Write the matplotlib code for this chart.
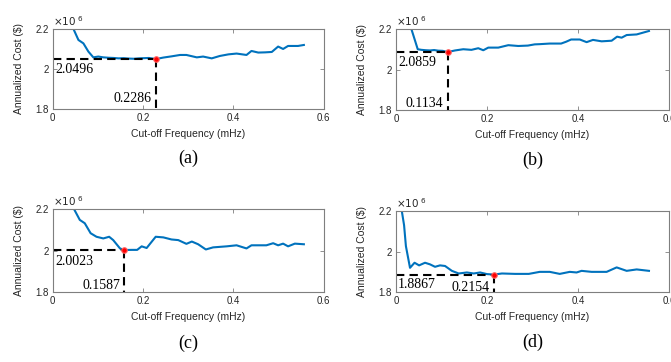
import matplotlib
matplotlib.use("Agg")
import matplotlib.pyplot as plt

# Annualized cost (x10^6 $) vs cut-off frequency (mHz)
a_x = [0.035, 0.046, 0.057, 0.068, 0.079, 0.090, 0.101, 0.112, 0.124, 0.135, 0.146, 0.157, 0.168,
       0.180, 0.191, 0.202, 0.213, 0.2286, 0.245, 0.263, 0.282, 0.296, 0.319, 0.333, 0.352, 0.370,
       0.389, 0.407, 0.429, 0.440, 0.455, 0.470, 0.485, 0.499, 0.510, 0.521, 0.543, 0.556]
a_y = [2.26, 2.20, 2.145, 2.128, 2.087, 2.058, 2.062, 2.058, 2.056, 2.055, 2.053, 2.054, 2.052,
       2.051, 2.053, 2.054, 2.055, 2.0496, 2.057, 2.063, 2.07, 2.07, 2.058, 2.062, 2.053, 2.065,
       2.073, 2.077, 2.07, 2.09, 2.082, 2.083, 2.085, 2.112, 2.10, 2.115, 2.115, 2.12]

b_x = [0.025, 0.034, 0.048, 0.056, 0.066, 0.075, 0.084, 0.093, 0.103, 0.1134, 0.13, 0.148, 0.166,
       0.181, 0.192, 0.203, 0.225, 0.247, 0.269, 0.290, 0.305, 0.316, 0.338, 0.363, 0.374, 0.385,
       0.404, 0.419, 0.433, 0.452, 0.474, 0.486, 0.496, 0.507, 0.529, 0.556]
b_y = [2.30, 2.20, 2.10, 2.097, 2.095, 2.094, 2.096, 2.093, 2.092, 2.0859, 2.094, 2.10, 2.097,
       2.105, 2.095, 2.108, 2.108, 2.12, 2.116, 2.118, 2.124, 2.125, 2.128, 2.128, 2.137, 2.148,
       2.148, 2.135, 2.146, 2.139, 2.142, 2.162, 2.157, 2.17, 2.173, 2.19]

c_x = [0.035, 0.047, 0.060, 0.071, 0.084, 0.097, 0.112, 0.125, 0.134, 0.149, 0.1587, 0.175, 0.187,
       0.197, 0.208, 0.228, 0.245, 0.263, 0.278, 0.296, 0.308, 0.322, 0.339, 0.355, 0.385, 0.407,
       0.429, 0.440, 0.473, 0.488, 0.499, 0.510, 0.521, 0.536, 0.556]
c_y = [2.26, 2.20, 2.147, 2.131, 2.083, 2.066, 2.058, 2.066, 2.05, 2.01, 2.0023, 2.003, 2.003,
       2.02, 2.012, 2.066, 2.063, 2.053, 2.05, 2.032, 2.043, 2.03, 2.005, 2.015, 2.02, 2.025,
       2.01, 2.025, 2.025, 2.035, 2.025, 2.033, 2.02, 2.033, 2.03]

d_x = [0.008, 0.013, 0.018, 0.022, 0.031, 0.041, 0.051, 0.064, 0.075, 0.086, 0.097, 0.108, 0.123,
       0.138, 0.156, 0.171, 0.185, 0.200, 0.2154, 0.233, 0.262, 0.292, 0.316, 0.338, 0.360, 0.382,
       0.397, 0.408, 0.430, 0.463, 0.485, 0.507, 0.529, 0.556]
d_y = [2.35, 2.20, 2.13, 2.027, 1.92, 1.945, 1.932, 1.945, 1.937, 1.925, 1.932, 1.929, 1.905,
       1.892, 1.897, 1.892, 1.897, 1.889, 1.8867, 1.892, 1.89, 1.89, 1.90, 1.90, 1.89, 1.90,
       1.897, 1.905, 1.90, 1.90, 1.922, 1.905, 1.912, 1.905]

# optimum points (freq, cost)
opt_f = [0.2286, 0.1134, 0.1587, 0.2154]
opt_c = [2.0496, 2.0859, 2.0023, 1.8867]
panel_labels = ["(a)", "(b)", "(c)", "(d)"]

series = [(a_x, a_y), (b_x, b_y), (c_x, c_y), (d_x, d_y)]
# axes rectangles [left, bottom, width, height] in figure fractions
rects = [[0.0785, 0.699, 0.404, 0.221],
         [0.590, 0.696, 0.407, 0.224],
         [0.0785, 0.193, 0.404, 0.230],
         [0.590, 0.193, 0.407, 0.224]]
# annotation placement: (cost text y, freq text x offset, freq text y)
cost_txt_y = [1.995, 2.034, 1.949, 1.838]
freq_txt_y = [1.85, 1.83, 1.833, 1.821]

plt.rcParams['font.family'] = ['Liberation Sans', 'DejaVu Sans']
line_col = '#0072BD'
axis_col = '#7f7f7f'
txt_col = '#262626'

fig = plt.figure(figsize=(6.71, 3.62), dpi=100)

for i, (xs, ys) in enumerate(series):
    ax = fig.add_axes(rects[i])
    ax.plot(xs, ys, color=line_col, linewidth=1.5)
    f0, c0 = opt_f[i], opt_c[i]
    ax.plot([0, f0], [c0, c0], color='black', linestyle=(0, (4, 2.5)), linewidth=1.5)
    ax.plot([f0, f0], [c0, 1.8], color='black', linestyle=(0, (4, 2.5)), linewidth=1.5)
    ax.plot([f0], [c0], 'o', color='red', markersize=4, markeredgecolor='#ff6666',
            markeredgewidth=0.8, zorder=5)
    ax.text(0.005, cost_txt_y[i], "%.4f" % c0, family='Liberation Serif', fontsize=10,
            ha='left', va='center', color='black')
    ax.text(f0 - 0.009, freq_txt_y[i], "%.4f" % f0, family='Liberation Serif', fontsize=10,
            ha='right', va='center', color='black')

    ax.set_xlim(0, 0.6)
    ax.set_ylim(1.8, 2.2)
    ax.set_xticks([0, 0.2, 0.4, 0.6])
    ax.set_xticklabels(["0", "0.2", "0.4", "0.6"])
    ax.set_yticks([1.8, 2.0, 2.2])
    ax.set_yticklabels(["1.8", "2", "2.2"])
    ax.tick_params(direction='in', length=3, width=0.6, colors=axis_col, labelcolor=txt_col,
                   labelsize=7, top=True, right=True, pad=3)
    for s in ax.spines.values():
        s.set_color(axis_col)
        s.set_linewidth(0.8)
    ax.set_xlabel("Cut-off Frequency (mHz)", fontsize=7.5, color=txt_col, labelpad=4)
    ax.set_ylabel("Annualized Cost ($)", fontsize=7.5, color=txt_col, labelpad=8)
    ax.text(0.0, 1.01, r"$\times10^{\ 6}$", transform=ax.transAxes, fontsize=7.5,
            color=txt_col, ha='left', va='bottom')
    ax.text(0.5, -0.62, panel_labels[i], transform=ax.transAxes, family='Liberation Serif',
            fontsize=13, ha='center', va='center', color='black')

fig.savefig("out.png", dpi=100)
